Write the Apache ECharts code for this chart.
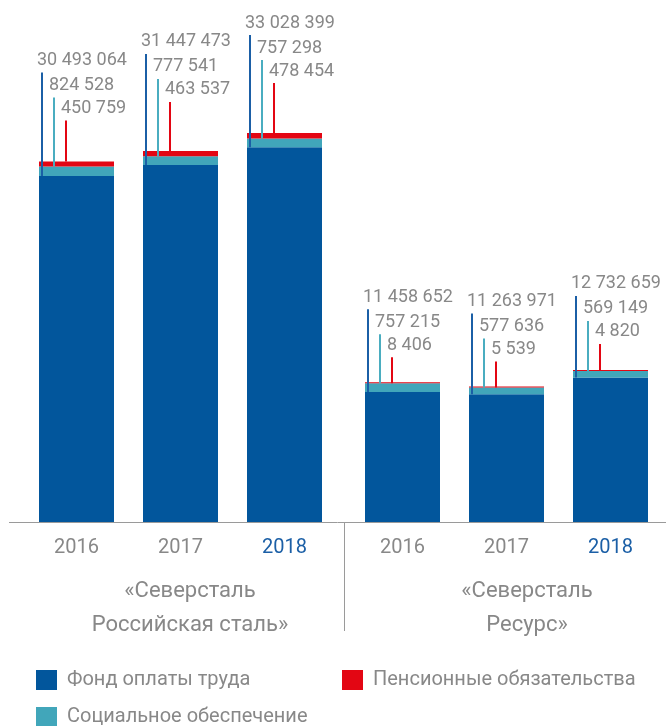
<!DOCTYPE html>
<html>
<head>
<meta charset="utf-8">
<script src="https://cdn.jsdelivr.net/npm/echarts@6/dist/echarts.min.js"></script>
<style>html,body{margin:0;padding:0;background:#fff}#main{width:666px;height:726px}</style>
</head>
<body>
<div id="main"></div>
<script>
var years = ['2016', '2017', '2018'];
var groupNames = ['«Северсталь\nРоссийская сталь»', '«Северсталь\nРесурс»'];
var seriesNames = ['Фонд оплаты труда', 'Социальное обеспечение', 'Пенсионные обязательства'];

// «Северсталь Российская сталь»
var payroll_rs = [30493064, 31447473, 33028399];
var social_rs = [824528, 777541, 757298];
var pension_rs = [450759, 463537, 478454];
// «Северсталь Ресурс»
var payroll_res = [11458652, 11263971, 12732659];
var social_res = [757215, 577636, 569149];
var pension_res = [8406, 5539, 4820];

// leader line heights above bar top (px), style only
var lift_rs = [41, 49, 50];
var lift_res = [26, 26, 27];

var colBlue = '#02569c', colTeal = '#41a6ba', colRed = '#e30613';
var grey = '#888888';
var font = 'Roboto';

function fmt(v){
	return String(v).replace(/\B(?=(\d{3})+(?!\d))/g, ' ');
}

function barSeries(g, blue, teal, red){
	return [
		{name: seriesNames[0], type: 'bar', stack: 's' + g, xAxisIndex: g, yAxisIndex: g, barWidth: 75,
			itemStyle: {color: colBlue}, data: blue},
		{name: seriesNames[1], type: 'bar', stack: 's' + g, xAxisIndex: g, yAxisIndex: g, barWidth: 75,
			itemStyle: {color: colTeal}, data: teal},
		{name: seriesNames[2], type: 'bar', stack: 's' + g, xAxisIndex: g, yAxisIndex: g, barWidth: 75,
			barMinHeight: 1, itemStyle: {color: colRed}, data: red}
	];
}

function leaderSeries(g, blue, teal, red, lift){
	return {
		type: 'custom', xAxisIndex: g, yAxisIndex: g, silent: true, z: 10,
		data: years.map(function(y, i){ return [i, blue[i], teal[i], red[i]]; }),
		renderItem: function(params, api){
			var i = api.value(0);
			var b = api.value(1), t = api.value(2), r = api.value(3);
			var x0 = api.coord([i, 0])[0] - 37.5;
			var yB = api.coord([i, b])[1];
			var yT = api.coord([i, b + t])[1];
			var yR = api.coord([i, b + t + r])[1];
			var top = yR - lift[params.dataIndex];
			var items = [
				{v: b, x: x0 + 3, y1: top - 48, y2: yB, c: '#1b5fa6'},
				{v: t, x: x0 + 15, y1: top - 23, y2: yT, c: '#4aadc0'},
				{v: r, x: x0 + 27, y1: top, y2: yR, c: colRed}
			];
			var children = [];
			items.forEach(function(it){
				children.push({type: 'line', shape: {x1: it.x, y1: it.y1, x2: it.x, y2: it.y2},
					style: {stroke: it.c, lineWidth: 2}});
				children.push({type: 'text', style: {x: it.x - 5, y: it.y1 - 12, text: fmt(it.v),
					fill: grey, fontSize: 18, fontFamily: font, align: 'left', verticalAlign: 'middle'}});
			});
			return {type: 'group', children: children};
		}
	};
}

function xAxisFor(g){
	return {
		type: 'category', gridIndex: g, data: years,
		axisLine: {show: false}, axisTick: {show: false},
		axisLabel: {
			fontSize: 20, fontFamily: font, margin: 16,
			color: function(v){ return v === '2018' ? '#1b5fa6' : grey; }
		}
	};
}

function legendFor(name, left, top){
	return {data: [name], left: left, top: top, padding: 0,
		icon: 'rect', itemWidth: 21, itemHeight: 20,
		textStyle: {color: grey, fontSize: 20, fontFamily: font, padding: [0, 0, 0, 5]}};
}

var chart = echarts.init(document.getElementById('main'));
var option = {
	animation: false,
	backgroundColor: '#fff',
	grid: [
		{left: 24.5, width: 312, top: 68, bottom: 204},
		{left: 350.5, width: 312, top: 68, bottom: 204}
	],
	xAxis: [xAxisFor(0), xAxisFor(1)],
	yAxis: [
		{type: 'value', gridIndex: 0, min: 0, max: 40000000, show: false},
		{type: 'value', gridIndex: 1, min: 0, max: 40000000, show: false}
	],
	legend: [
		legendFor(seriesNames[0], 36, 670),
		legendFor(seriesNames[1], 36, 707),
		legendFor(seriesNames[2], 342, 670)
	],
	graphic: [
		{type: 'line', shape: {x1: 9, y1: 522.5, x2: 666, y2: 522.5}, style: {stroke: '#9a9a9a', lineWidth: 1}, z: 20},
		{type: 'line', shape: {x1: 344.5, y1: 522, x2: 344.5, y2: 631}, style: {stroke: '#9a9a9a', lineWidth: 1}},
		{type: 'text', style: {x: 190, y: 574, text: groupNames[0], align: 'center', verticalAlign: 'top',
			fill: grey, fontSize: 22, fontFamily: font, lineHeight: 34}},
		{type: 'text', style: {x: 527, y: 574, text: groupNames[1], align: 'center', verticalAlign: 'top',
			fill: grey, fontSize: 22, fontFamily: font, lineHeight: 34}}
	],
	series: [].concat(
		barSeries(0, payroll_rs, social_rs, pension_rs),
		barSeries(1, payroll_res, social_res, pension_res),
		[leaderSeries(0, payroll_rs, social_rs, pension_rs, lift_rs),
		 leaderSeries(1, payroll_res, social_res, pension_res, lift_res)]
	)
};
chart.setOption(option);
</script>
</body>
</html>
